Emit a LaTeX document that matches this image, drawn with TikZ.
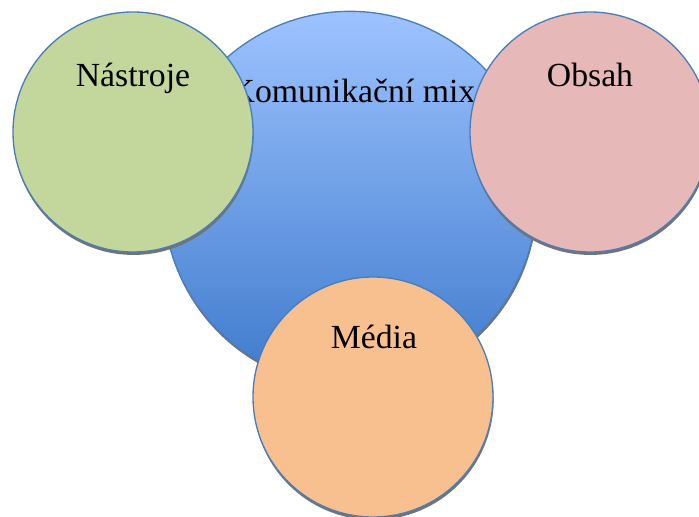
\documentclass[tikz,border=0pt]{standalone}
\usepackage{fontspec}
\setmainfont{Liberation Serif}
\usepackage{tikz}
\usetikzlibrary{calc,shadows}
\definecolor{mixtop}{RGB}{157,195,255}
\definecolor{mixbot}{RGB}{62,122,204}
\definecolor{rimblue}{RGB}{74,126,187}
\definecolor{toolgreen}{RGB}{195,214,155}
\definecolor{contpink}{RGB}{230,184,183}
\definecolor{medorange}{RGB}{249,192,143}

\begin{document}
\begin{tikzpicture}[
  x=0.75pt, y=-0.75pt,
  font=\fontsize{25.3}{29}\selectfont,
  disc/.style={circle, draw=rimblue, line width=1pt, inner sep=0pt,
    drop shadow={shadow xshift=0.4pt, shadow yshift=-2.2pt, fill=black!55, opacity=1}},
  small/.style={disc, minimum size=180pt},
  lbl/.style={inner sep=0pt, anchor=base},
]
\useasboundingbox (0,0) rectangle (699,517);
\clip (0,0) rectangle (699,517);
% ---- central circle ----
\node[disc, minimum size=280pt, top color=mixtop, bottom color=mixbot] (mix) at (350,198) {};
\node[lbl] (mixtxt) at ($(mix.center)+(3,-95)$) {Komunikační mix};
% ---- three satellites ----
\node[small, fill=toolgreen] (nastroje) at (133,132) {};
\node[lbl] (nastrojetxt) at ($(nastroje.center)+(0,-45)$) {Nástroje};
\node[small, fill=contpink] (obsah) at (590,132) {};
\node[lbl] (obsahtxt) at ($(obsah.center)+(0,-46)$) {Obsah};
\node[small, fill=medorange] (media) at (373,397) {};
\node[lbl] (mediatxt) at ($(media.center)+(1,-49)$) {Média};
\end{tikzpicture}
\end{document}
